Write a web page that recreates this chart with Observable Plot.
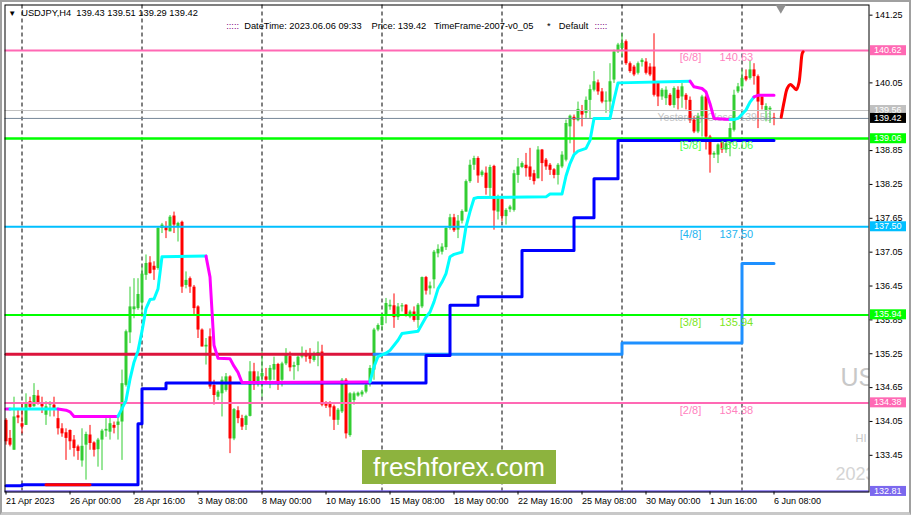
<!DOCTYPE html>
<html><head><meta charset="utf-8">
<script src="https://cdn.jsdelivr.net/npm/d3@7"></script>
<script src="https://cdn.jsdelivr.net/npm/@observablehq/plot@0.6"></script>
<style>
html,body{margin:0;padding:0;background:#fff;}
#wrap{position:relative;width:911px;height:515px;overflow:hidden;font-family:"Liberation Sans",Arial,sans-serif;}
#wrap svg{position:absolute;left:0;top:0;}
svg text{white-space:pre;}
#border{position:absolute;left:0;top:0;width:911px;height:515px;box-sizing:border-box;border:2px solid #a0a0a0;border-bottom:3px solid #c8c8c8;pointer-events:none;}
#logo{position:absolute;left:362px;top:450px;width:194px;height:34px;background:#8db33e;color:#fff;font-size:26px;line-height:34px;text-align:center;font-family:"Liberation Sans",Arial,sans-serif;}
</style></head><body><div id="wrap"></div>
<script>
// ---- OHLC, USDJPY H4, bar 0 = 21 Apr 2023 08:00 ... bar 192 = 6 Jun 2023 08:00
const opens = [134.07,133.75,133.54,134.15,134.01,133.98,134.40,134.31,134.50,134.38,134.16,134.34,134.34,134.10,133.92,133.85,133.89,133.72,133.60,133.35,
133.63,133.81,133.67,133.55,133.72,133.88,133.86,133.98,133.98,134.04,134.69,135.62,136.03,136.05,136.15,136.64,136.86,136.80,136.76,137.47,
137.49,137.41,137.69,137.50,137.58,136.46,136.58,136.43,136.08,135.67,135.37,135.55,134.69,134.48,134.54,134.60,134.84,133.74,134.24,134.10,
133.98,134.14,134.93,134.75,134.84,134.84,134.78,134.96,135.06,134.78,135.07,135.20,135.01,135.04,135.19,135.22,135.22,135.13,135.21,135.28,
134.37,134.35,134.31,134.07,134.22,134.78,133.80,134.42,134.50,134.52,134.57,134.72,134.96,135.67,135.75,135.93,136.08,136.10,135.89,136.08,
136.11,135.90,135.99,135.84,136.08,136.60,136.40,136.56,137.02,137.05,137.13,137.47,137.66,137.44,137.60,137.76,138.30,138.59,138.71,138.41,
138.45,138.18,138.57,137.76,137.98,137.68,137.80,137.79,138.41,138.55,138.59,138.56,138.44,138.35,138.86,138.68,138.59,138.51,138.41,138.56,
138.68,139.27,139.44,139.38,139.56,139.51,139.74,139.92,140.05,139.89,139.71,139.71,140.10,140.60,140.66,140.78,140.39,140.33,140.22,140.41,
140.42,140.33,140.33,140.04,139.80,139.77,139.83,139.65,139.92,139.80,139.83,139.74,139.39,139.18,139.45,139.80,139.09,138.77,138.77,139.00,
138.86,138.97,139.21,139.89,139.98,140.16,140.13,140.28,140.16,139.80,139.54,139.57,139.43];
const highs = [134.10,133.89,134.48,134.28,134.37,134.54,134.48,134.72,134.60,134.48,134.40,134.40,134.48,134.25,134.01,133.92,133.90,133.80,133.63,133.92,
133.86,133.98,133.69,133.75,133.91,134.10,134.13,134.04,134.13,134.96,135.67,136.43,136.58,136.58,136.79,137.00,136.97,136.88,137.50,137.56,
137.59,137.70,137.76,137.58,137.60,136.70,136.61,136.46,136.10,135.69,135.52,135.69,134.78,134.60,134.84,134.90,134.86,134.28,134.31,134.16,
134.16,135.11,135.08,134.93,135.28,134.99,135.04,135.19,135.08,135.10,135.34,135.28,135.10,135.21,135.37,135.31,135.34,135.28,135.46,135.40,
134.40,134.40,134.34,134.28,134.81,134.81,134.56,134.57,134.57,134.60,134.72,135.04,135.70,135.78,135.95,136.23,136.20,136.31,136.14,136.14,
136.12,136.02,136.08,136.14,136.61,136.62,136.52,137.08,137.18,137.20,137.50,137.72,137.72,137.70,137.80,138.33,138.68,138.75,138.74,138.50,
138.56,138.59,138.59,138.06,138.00,137.82,137.88,138.50,138.71,138.65,138.80,138.89,138.50,138.92,138.87,138.71,138.62,138.53,138.62,138.83,
139.39,139.48,139.48,139.71,139.65,139.80,140.01,140.25,140.10,139.95,139.89,140.39,140.63,140.75,140.92,140.81,140.42,140.36,140.42,140.48,
140.48,140.39,140.92,140.07,139.95,139.98,139.86,139.98,139.98,140.04,139.86,139.80,139.45,139.51,139.83,139.83,139.12,138.83,138.97,139.06,
139.03,139.33,139.92,140.04,140.28,140.28,140.45,140.39,140.19,139.83,139.68,139.63,139.51];
const lows = [133.63,133.60,133.54,134.01,133.83,133.98,134.28,134.30,134.34,134.19,133.98,134.13,134.13,133.81,133.77,133.36,133.54,133.42,133.36,133.24,
133.01,133.54,133.42,133.24,133.18,133.77,133.72,133.83,133.72,133.36,134.66,135.43,135.87,136.02,135.96,136.55,136.66,136.55,136.73,137.38,
137.29,137.41,137.38,137.23,136.32,136.40,136.32,135.93,135.52,135.37,135.05,134.62,134.34,134.42,134.13,134.57,133.48,133.71,134.01,133.89,
133.89,134.13,134.60,134.66,134.48,134.72,134.63,134.78,134.60,134.66,135.04,134.93,134.78,134.93,135.16,135.10,135.07,135.10,135.02,134.31,
134.28,134.13,133.89,133.98,134.19,133.74,133.77,134.34,134.48,134.48,134.54,134.66,134.78,135.64,135.66,135.78,136.02,135.70,135.84,135.99,
135.90,135.87,135.81,135.70,136.05,136.29,136.29,136.40,136.95,137.00,137.08,137.44,137.40,137.29,137.55,137.76,138.27,138.50,138.27,138.38,
138.06,138.03,137.44,137.62,137.59,137.53,137.75,137.76,138.27,138.53,138.38,138.32,138.24,138.35,138.30,138.50,138.41,138.35,138.24,138.53,
138.65,138.97,138.80,139.36,139.27,139.42,139.42,139.89,139.83,139.68,139.51,139.51,140.04,140.57,140.51,140.36,140.22,140.16,140.19,140.33,
140.19,140.16,139.80,139.63,139.74,139.65,139.63,139.60,139.57,139.60,139.57,139.33,139.15,139.15,139.09,138.86,138.45,138.71,138.62,138.80,
138.80,138.74,139.18,139.86,139.92,140.07,140.10,140.01,139.24,139.57,139.36,139.33,139.29];
const closes = [133.69,133.63,134.13,134.11,133.95,134.37,134.30,134.51,134.37,134.31,134.31,134.37,134.25,133.92,133.83,133.75,133.69,133.57,133.52,133.61,
133.82,133.66,133.54,133.72,133.88,133.91,134.01,133.93,134.04,134.72,135.64,136.08,136.08,136.30,136.66,136.85,136.67,136.73,137.47,137.53,
137.43,137.67,137.53,137.56,136.43,136.55,136.43,136.05,135.67,135.37,135.40,134.66,134.51,134.57,134.78,134.84,133.74,134.26,134.10,133.95,
134.14,134.93,134.75,134.84,134.90,134.78,134.99,135.06,134.75,135.07,135.22,135.00,135.04,135.19,135.22,135.19,135.15,135.22,135.27,134.34,
134.32,134.29,134.07,134.25,134.78,133.83,134.54,134.54,134.55,134.57,134.69,134.99,135.67,135.75,135.90,136.14,136.11,135.89,136.08,136.10,
135.93,135.99,135.84,136.11,136.60,136.36,136.45,137.05,137.10,137.14,137.47,137.66,137.43,137.60,137.77,138.30,138.59,138.71,138.40,138.47,
138.18,138.55,137.78,138.00,137.68,137.79,137.85,138.44,138.56,138.62,138.53,138.38,138.30,138.86,138.62,138.56,138.50,138.41,138.59,138.77,
139.33,139.46,139.39,139.58,139.48,139.74,139.93,140.07,139.89,139.71,139.73,140.07,140.60,140.72,140.75,140.39,140.25,140.19,140.39,140.45,
140.22,140.19,139.83,139.80,139.92,139.92,139.65,139.95,139.77,139.98,139.74,139.39,139.18,139.45,139.80,139.09,138.77,138.80,138.95,138.86,
138.97,139.24,139.83,139.98,140.13,140.10,140.28,140.16,139.71,139.65,139.63,139.60,139.42];

// ---- time axis
const xTickBars = [0,16,32,48,64,80,96,112,128,144,160,176,192];
const xTickLabels = ["21 Apr 2023","26 Apr 00:00","28 Apr 16:00","3 May 08:00","8 May 00:00","10 May 16:00","15 May 08:00","18 May 00:00","22 May 16:00","25 May 08:00","30 May 00:00","1 Jun 16:00","6 Jun 08:00"];
const separatorBars = [4,34,64,94,124,154,184];

// ---- price axis (139.45 and 140.65 sit fully under the price tags)
const yTicks = [133.45,134.05,134.65,135.25,135.85,136.45,137.05,137.65,138.25,138.85,140.05,141.25];

// ---- Murrey Math levels
const murreyNames = ["[6/8]","[5/8]","[4/8]","[3/8]","[2/8]","[1/8]"];
const murreyValues = [140.625,139.0625,137.5,135.9375,134.375,132.8125];
const murreyText = ["140.63","139.06","137.50","135.94","134.38","132.81"];
const yesterdayClose = 139.56;
const bidPrice = 139.42;
const tagValues = [140.62,139.56,139.42,139.06,137.50,135.94,134.38,132.81];

// ---- stop lines (bar index, price)
const blueBars = [0,4,33,34,40,105,111,118,129,142,147,153,192];
const blueVals = [132.91,132.93,134.01,134.63,134.73,135.22,136.11,136.26,137.08,137.66,138.35,139.03,139.03];
const blueRedBars = [10,21];
const blueRedVals = [132.93,132.93];
const crimsonBars = [0,92];
const crimsonVals = [135.24,135.24];
const dodgerBars = [92,154,184,192];
const dodgerVals = [135.24,135.44,136.85,136.85];

// ---- trailing line (1 = rising/cyan, 0 = falling/magenta)
const trailBars = [0,1,13,15,16,17,28,30,31,32,33,34,35,36,37,38,39,50,51,52,53,56,57,58,59,91,
92,93,95,96,98,99,103,105,106,107,108,109,110,111,112,114,115,116,117,118,135,136,139,140,141,142,143,145,146,147,151,152,153,171,
172,174,175,176,177,181,182,183,185,186,187,188,192];
const trailVals = [134.27,134.27,134.27,134.25,134.22,134.14,134.14,134.42,134.80,135.10,135.30,135.65,136.05,136.21,136.22,136.40,136.97,136.98,136.61,135.40,135.17,135.16,135.03,134.92,134.74,134.75,
135.02,135.20,135.26,135.31,135.49,135.61,135.65,135.90,135.99,136.17,136.40,136.52,136.67,136.97,137.01,137.05,137.50,137.77,138.00,138.02,138.03,138.08,138.08,138.40,138.62,138.78,138.84,138.89,139.03,139.42,139.42,139.75,140.05,140.08,
139.98,139.95,139.89,139.68,139.42,139.40,139.40,139.42,139.57,139.71,139.80,139.83,139.83];
const trailUp = [0,0,1,0,0,0,0,1,1,1,1,1,1,1,1,1,1,1,0,0,0,0,0,0,0,0,
1,1,1,1,1,1,1,1,1,1,1,1,1,1,1,1,1,1,1,1,1,1,1,1,1,1,1,1,1,1,1,1,1,1,
0,0,0,0,0,0,1,1,1,1,1,0,0];

// ---- hand-drawn forecast curve
const forecastBars = [193.8,194.6,195.3,196.1,196.95,197.6,198.2,198.6,199.05,199.3];
const forecastVals = [139.44,139.74,139.95,140.02,139.97,139.93,140.04,140.27,140.57,140.60];

// ---- header texts
const symbolText = "USDJPY,H4";
const infoTexts = ["DateTime: 2023.06.06 09:33","Price: 139.42","TimeFrame-2007-v0_05","*","Default"];
const watermarkTexts = ["US","HI","2023"];

// ================= build
const GREEN = "#32cd32", RED = "#ff0000";
const candles = opens.map((o,i)=>({i, o, h: highs[i], l: lows[i], c: closes[i]}));
const candleColor = d => d.c >= d.o ? GREEN : RED;
const pts = (bs, vs) => bs.map((b,k)=>({b, v: vs[k]}));

const trailRows = [];
let seg = 0;
for (let k = 0; k < trailBars.length; k++) {
  if (k > 0 && trailUp[k] !== trailUp[k-1]) {
    seg++;
    trailRows.push({b: trailBars[k-1], v: trailVals[k-1], seg, up: trailUp[k]});
  }
  trailRows.push({b: trailBars[k], v: trailVals[k], seg, up: trailUp[k]});
}

const levelStyle = {
  "[6/8]": {line:"#ff69b4", text:"#ff82be", w:2},
  "[5/8]": {line:"#00ff00", text:"#4cff4c", w:2.5},
  "[4/8]": {line:"#00bfff", text:"#1eb4f0", w:2},
  "[3/8]": {line:"#00ff00", text:"#7ce61e", w:2},
  "[2/8]": {line:"#ff69b4", text:"#ff82be", w:2},
  "[1/8]": {line:"#7b68ee", text:"#7b68ee", w:2}
};
const murrey = murreyNames.map((n,k)=>({n, v: murreyValues[k], t: murreyText[k], ...levelStyle[n]}));
const murreyLabeled = murrey.slice(0,5);

const tagBg = ["#ff69b4","#c0c0c0","#000000","#00ff00","#00bfff","#00ff00","#ff69b4","#7b68ee"];
const tags = tagValues.map((v,k)=>({v, bg: tagBg[k]}));

const tickLabel = new Map(xTickBars.map((b,k)=>[b, xTickLabels[k]]));
const last = candles[candles.length-1];
const headerText = `${symbolText}  ${last.o.toFixed(2)} ${last.h.toFixed(2)} ${last.l.toFixed(2)} ${last.c.toFixed(2)}`;

function tagMark(index, scales, values, dims) {
  const g = d3.create("svg:g").attr("text-anchor", "start");
  const x0 = dims.width - dims.marginRight + 1.5;
  for (const t of tags) {
    const y = scales.y(t.v);
    g.append("rect").attr("x", x0).attr("y", y - 5).attr("width", 36).attr("height", 10).attr("fill", t.bg);
    g.append("text").attr("x", x0 + 4).attr("y", y).attr("dy", "0.35em").attr("fill", "#fff")
      .attr("text-anchor", "start").attr("font-size", 9)
      .attr("font-family", "Liberation Sans, Arial, sans-serif").text(t.v.toFixed(2));
  }
  return g.node();
}

const txt = (s, o) => Plot.text([s], {text: d => d, frameAnchor: "top-left", textAnchor: "start", lineAnchor: "middle", ...o});

const plot = Plot.plot({
  width: 911, height: 515,
  marginLeft: 4.5, marginRight: 42.5, marginTop: 4.5, marginBottom: 23.5,
  x: {domain: [-0.25, 215.75]},
  y: {domain: [132.80, 141.43]},
  color: {type: "identity"},
  style: {fontFamily: "Liberation Sans, Arial, sans-serif", background: "white", color: "black"},
  marks: [
    Plot.ruleX(separatorBars, {x: d => d, stroke: "black", strokeWidth: 1, strokeDasharray: "4,3"}),
    // watermarks
    txt(watermarkTexts[0], {dx: 835.5, dy: 373, fontSize: 25, fill: "#c8c8c8", clip: true}),
    txt(watermarkTexts[1], {dx: 850.5, dy: 433.5, fontSize: 11, fill: "#c8c8c8", clip: true}),
    txt(watermarkTexts[2], {dx: 830.5, dy: 469, fontSize: 18, fill: "#d4d4d4", clip: true}),
    Plot.text([yesterdayClose], {y: d => d, text: d => `Yesterday Close: ${d.toFixed(2)}`, frameAnchor: "left", dx: 652.5, dy: 3, textAnchor: "start", lineAnchor: "top", fontSize: 10.5, fill: "#c4c4c4"}),
    // candles
    Plot.ruleX(candles, {x: "i", y1: "l", y2: "h", stroke: candleColor, strokeWidth: 1}),
    Plot.ruleX(candles, {x: "i", y1: "o", y2: "c", stroke: candleColor, strokeWidth: 3}),
    // horizontal levels
    Plot.ruleY([yesterdayClose], {y: d => d, stroke: "#c0c0c0", strokeWidth: 1}),
    Plot.ruleY([bidPrice], {y: d => d, stroke: "#778899", strokeWidth: 1}),
    Plot.ruleY(murrey, {y: "v", stroke: "line", strokeWidth: "w"}),
    // stop lines
    Plot.line(pts(crimsonBars, crimsonVals), {x: "b", y: "v", stroke: "#dc143c", strokeWidth: 3}),
    Plot.line(pts(dodgerBars, dodgerVals), {x: "b", y: "v", stroke: "#1e90ff", strokeWidth: 3, curve: "step-after"}),
    Plot.line(pts(blueBars, blueVals), {x: "b", y: "v", stroke: "#0000ff", strokeWidth: 3, curve: "step-after"}),
    Plot.line(pts(blueRedBars, blueRedVals), {x: "b", y: "v", stroke: "#ff0000", strokeWidth: 3}),
    Plot.line(trailRows, {x: "b", y: "v", z: "seg", stroke: d => d.up ? "#00ffff" : "#ff00ff", strokeWidth: 3}),
    Plot.line(pts(forecastBars, forecastVals), {x: "b", y: "v", stroke: "#ff0000", strokeWidth: 3, curve: "catmull-rom"}),
    // Murrey labels
    Plot.text(murreyLabeled, {y: "v", text: "n", fill: "text", frameAnchor: "left", dx: 674.8, dy: 3, textAnchor: "start", lineAnchor: "top", fontSize: 11}),
    Plot.text(murreyLabeled, {y: "v", text: "t", fill: "text", frameAnchor: "left", dx: 714.5, dy: 3, textAnchor: "start", lineAnchor: "top", fontSize: 11}),
    // frame and axes
    Plot.frame({stroke: "black"}),
    Plot.axisY({anchor: "right", ticks: yTicks, tickFormat: d => d.toFixed(2), tickSize: 3, tickPadding: 3, fontSize: 9, label: null}),
    Plot.axisX({anchor: "bottom", ticks: xTickBars, tickFormat: d => tickLabel.get(d), tickSize: 3, tickPadding: 3, fontSize: 9, textAnchor: "start", label: null}),
    tagMark,
    // header
    txt("\u25BC", {dx: 7.1, dy: 8.5, fontSize: 8, textAnchor: "middle", fill: "black"}),
    txt(headerText, {dx: 16.2, dy: 8.2, fontSize: 9.3, fill: "black"}),
    txt(":::::", {dx: 221.2, dy: 21.2, fontSize: 9.3, fill: "#800080"}),
    txt(infoTexts[0], {dx: 239.2, dy: 21.2, fontSize: 9.3, fill: "black"}),
    txt(infoTexts[1], {dx: 366.5, dy: 21.2, fontSize: 9.3, fill: "black"}),
    txt(infoTexts[2], {dx: 429, dy: 21.2, fontSize: 9.3, fill: "black"}),
    txt(infoTexts[3], {dx: 542, dy: 21.2, fontSize: 9.3, fill: "black"}),
    txt(infoTexts[4], {dx: 553.8, dy: 21.2, fontSize: 9.3, fill: "black"}),
    txt(":::::", {dx: 589.5, dy: 21.2, fontSize: 9.3, fill: "#800080"}),
    Plot.dot([0], {frameAnchor: "top-left", dx: 775.8, dy: 2.5, symbol: "triangle", r: 4, rotate: 180, fill: "#909090", stroke: null})
  ]
});

const wrap = document.getElementById("wrap");
wrap.appendChild(plot);
const logo = document.createElement("div");
logo.id = "logo"; logo.textContent = "freshforex.com";
wrap.appendChild(logo);
const border = document.createElement("div");
border.id = "border";
wrap.appendChild(border);
</script>
</body></html>
